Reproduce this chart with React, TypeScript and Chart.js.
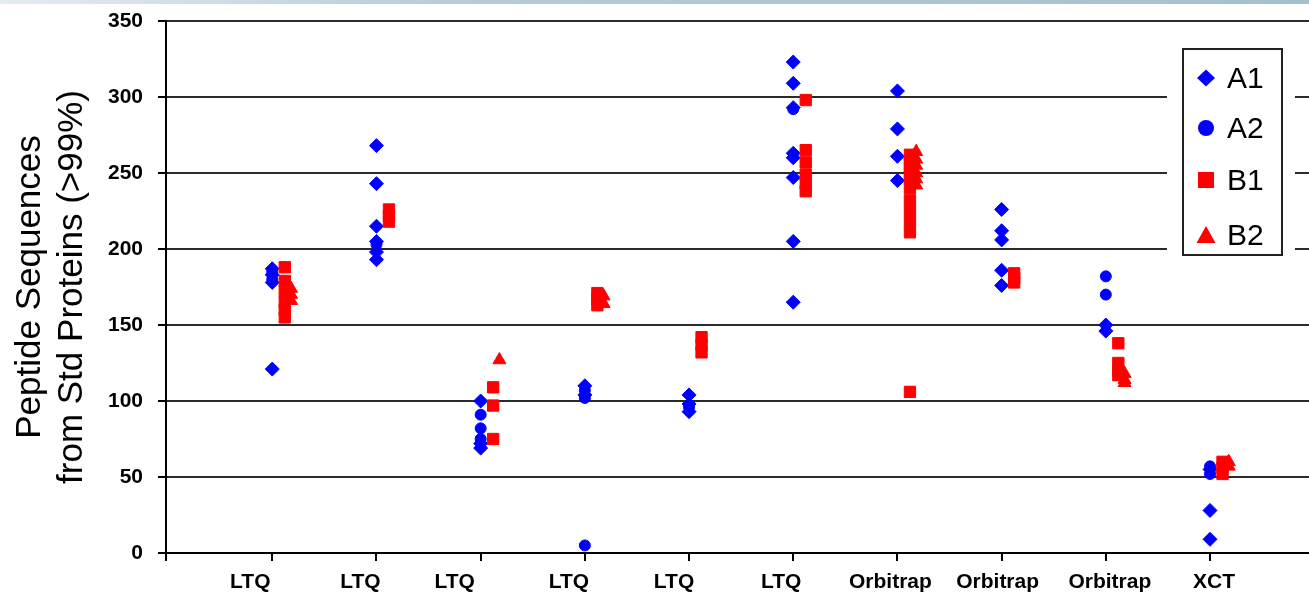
import React, { useEffect, useRef } from "react";
import { Chart, registerables } from "chart.js";

Chart.register(...registerables);

// ---------- data ----------
const categories = ["LTQ", "LTQ", "LTQ", "LTQ", "LTQ", "LTQ", "Orbitrap", "Orbitrap", "Orbitrap", "XCT"];
const yTickValues = [0, 50, 100, 150, 200, 250, 300, 350];
const seriesNames = ["A1", "A2", "B1", "B2"];

const a1Values: number[][] = [
  [187, 183, 178, 121],
  [268, 243, 215, 205, 198, 193],
  [100, 72, 69],
  [110, 104],
  [104, 98, 93],
  [323, 309, 293, 263, 260, 247, 205, 165],
  [304, 279, 261, 245],
  [226, 212, 206, 186, 176],
  [150, 146],
  [55, 28, 9],
];
const a2Values: number[][] = [
  [185, 180],
  [203],
  [91, 82, 75],
  [107, 102, 5],
  [96],
  [292],
  [],
  [],
  [182, 170],
  [57, 52],
];
const b1Values: number[][] = [
  [188, 179, 172, 165, 160, 155],
  [226, 222, 218],
  [109, 97, 75],
  [171, 167, 163],
  [142, 137, 132],
  [298, 265, 257, 249, 243, 238],
  [262, 258, 254, 250, 246, 240, 232, 225, 218, 211, 106],
  [184, 181, 178],
  [138, 125, 120, 117],
  [60, 56, 52],
];
const b2Values: number[][] = [
  [174, 170, 166],
  [],
  [127],
  [169, 164],
  [],
  [],
  [264, 259, 255, 250, 246, 242],
  [],
  [118, 114, 112],
  [60, 57],
];

// ---------- style ----------
const FONT = '"Liberation Sans", Arial, Helvetica, sans-serif';
const BLUE = "#0000ff";
const RED = "#ff0000";
const seriesShift = [0, 0, 0.12, 0.18];
const labelNudgePx = [-22, -16, -26, -16, -15, -12, -7, -4, 4, 4];

function toPoints(groups: number[][], shift: number) {
  return groups.flatMap((vals, i) => vals.map((v) => ({ x: i + 1 + shift, y: v })));
}

const xLabelsPlugin = {
  id: "xCategoryLabels",
  afterDraw(chart: any) {
    const ctx = chart.ctx;
    const xs = chart.scales.x;
    ctx.save();
    ctx.font = `bold 21px ${FONT}`;
    ctx.fillStyle = "#000";
    ctx.textAlign = "center";
    ctx.textBaseline = "middle";
    categories.forEach((c, i) => {
      ctx.fillText(c, xs.getPixelForValue(i + 1) + labelNudgePx[i], xs.top + 29);
    });
    ctx.restore();
  },
};

function drawMarker(ctx: CanvasRenderingContext2D, kind: string, x: number, y: number) {
  ctx.beginPath();
  if (kind === "diamond") {
    ctx.moveTo(x, y - 8.5);
    ctx.lineTo(x + 9, y);
    ctx.lineTo(x, y + 8.5);
    ctx.lineTo(x - 9, y);
    ctx.closePath();
  } else if (kind === "circle") {
    ctx.arc(x, y, 8, 0, Math.PI * 2);
  } else if (kind === "square") {
    ctx.rect(x - 8, y - 8, 16, 16);
  } else {
    ctx.moveTo(x, y - 9);
    ctx.lineTo(x + 9.5, y + 8);
    ctx.lineTo(x - 9.5, y + 8);
    ctx.closePath();
  }
  ctx.fill();
}

const boxLegendPlugin = {
  id: "boxLegend",
  afterDraw(chart: any) {
    const ctx = chart.ctx;
    const area = chart.chartArea;
    const left = area.right - 126;
    const top = area.top + 28;
    const w = 99;
    const h = 206;
    const kinds = ["diamond", "circle", "square", "triangle"];
    const colors = [BLUE, BLUE, RED, RED];
    const rowY = [29, 79, 131, 186];
    ctx.save();
    ctx.fillStyle = "#fff";
    ctx.fillRect(left - 16, top - 10, w + 29, h + 20);
    ctx.strokeStyle = "#222";
    ctx.lineWidth = 2;
    ctx.strokeRect(left, top, w, h);
    ctx.font = `30px ${FONT}`;
    ctx.textAlign = "left";
    ctx.textBaseline = "middle";
    seriesNames.forEach((name, i) => {
      const y = top + rowY[i];
      ctx.fillStyle = colors[i];
      drawMarker(ctx, kinds[i], left + 23, y);
      ctx.fillStyle = "#000";
      ctx.fillText(name, left + 44, y + 2);
    });
    ctx.restore();
  },
};

export default function App() {
  const ref = useRef<HTMLCanvasElement>(null);

  useEffect(() => {
    if (!ref.current) return;
    const mk = (i: number, groups: number[][], style: string, color: string, radius: number) => ({
      label: seriesNames[i],
      data: toPoints(groups, seriesShift[i]),
      pointStyle: style,
      pointRadius: radius,
      pointHoverRadius: radius,
      pointBorderWidth: 1,
      backgroundColor: color,
      borderColor: color,
      showLine: false,
      order: 4 - i,
    });
    const chart = new Chart(ref.current, {
      type: "scatter",
      data: {
        datasets: [
          mk(0, a1Values, "rectRot", BLUE, 7),
          mk(1, a2Values, "circle", BLUE, 5.5),
          mk(2, b1Values, "rect", RED, 8),
          mk(3, b2Values, "triangle", RED, 7.5),
        ] as any,
      },
      options: {
        animation: false,
        responsive: false,
        devicePixelRatio: 1,
        layout: { autoPadding: false, padding: { top: 21, left: 0, right: 0, bottom: 0 } },
        plugins: {
          legend: { display: false },
          tooltip: { enabled: false },
          title: { display: false },
        },
        scales: {
          x: {
            type: "linear",
            position: "bottom",
            min: -0.02,
            max: 10.95,
            afterBuildTicks: (s: any) => {
              s.ticks = [-0.02, ...categories.map((_, i) => i + 1)].map((v) => ({ value: v }));
            },
            afterFit: (s: any) => {
              s.height = 45;
              s.paddingLeft = 0;
              s.paddingRight = 0;
            },
            border: { display: true, color: "#000", width: 2 },
            grid: { drawOnChartArea: false, drawTicks: true, tickLength: 8, color: "#000", lineWidth: 2 },
            ticks: { display: false },
          },
          y: {
            type: "linear",
            position: "left",
            min: 0,
            max: 350,
            afterBuildTicks: (s: any) => {
              s.ticks = yTickValues.map((v) => ({ value: v }));
            },
            afterFit: (s: any) => {
              s.width = 166;
              s.paddingTop = 0;
              s.paddingBottom = 0;
            },
            border: { display: true, color: "#000", width: 2 },
            grid: { color: "#2a2a2a", lineWidth: 2, drawTicks: true, tickLength: 8, tickColor: "#000" },
            ticks: {
              color: "#000",
              font: { family: FONT, size: 21, weight: "bold" },
              padding: 15,
            },
            title: {
              display: true,
              text: ["Peptide Sequences", "from Std Proteins (>99%)"],
              color: "#000",
              font: { family: FONT, size: 35 },
              padding: { top: 9, bottom: 0 },
            },
          },
        },
      } as any,
      plugins: [xLabelsPlugin, boxLegendPlugin],
    });
    return () => chart.destroy();
  }, []);

  return (
    <div style={{ position: "fixed", left: 0, top: 0, width: 1309, height: 598, background: "#fff" }}>
      <canvas ref={ref} width={1309} height={598} style={{ display: "block", width: 1309, height: 598 }} />
      <div
        style={{
          position: "absolute",
          left: 0,
          top: 0,
          width: "100%",
          height: 4,
          background: "linear-gradient(to right, #e4ecf1 0%, #b7cbd8 35%, #a6bfcf 100%)",
        }}
      />
    </div>
  );
}
